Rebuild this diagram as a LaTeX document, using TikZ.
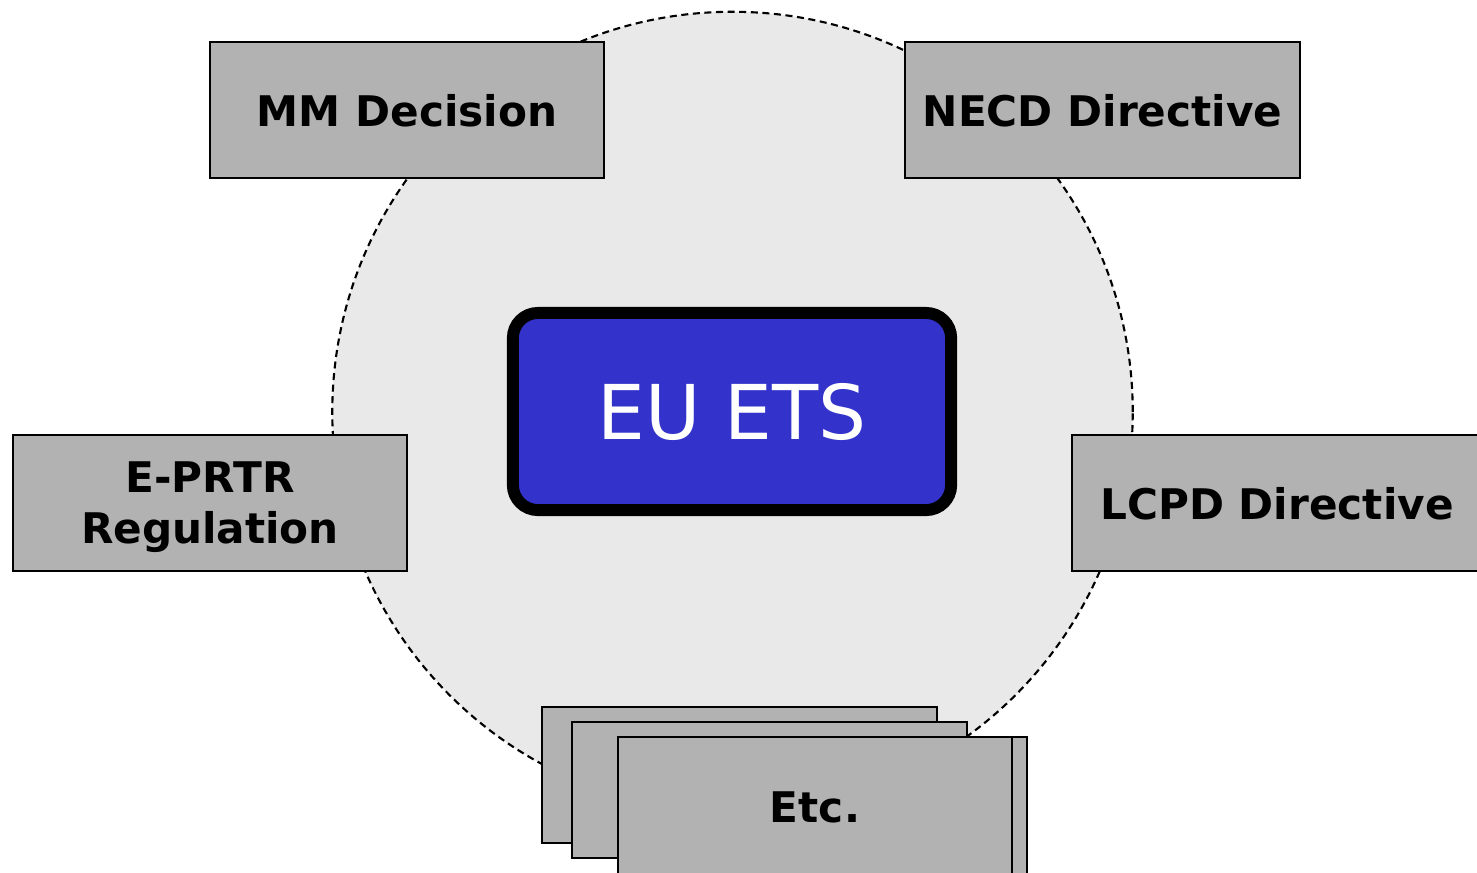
\documentclass[tikz,border=0pt]{standalone}
\usepackage{fontspec}
\setmainfont{DejaVu Sans}
\usepackage{xcolor}
\usetikzlibrary{positioning,calc}
\definecolor{docgray}{HTML}{B2B2B2}
\definecolor{ringgray}{HTML}{E9E9E9}
\definecolor{etsblue}{HTML}{3333CC}

\begin{document}
\begin{tikzpicture}[x=0.01cm, y=-0.01cm,
    docbox/.style={rectangle, draw, line width=0.6pt, fill=docgray, minimum width=3.94cm, minimum height=1.36cm, inner sep=0pt, text depth=0pt, align=center, font=\fontsize{12}{14.5}\selectfont\bfseries},
    etsbox/.style={rectangle, draw, line width=3.4pt, rounded corners=0.25cm, fill=etsblue, text=white, minimum width=4.38cm, minimum height=1.97cm, font=\fontsize{21.5}{25}\selectfont}]
    \useasboundingbox (0,0) rectangle (1477,872);
    \node[circle, draw, dash pattern=on 2pt off 1.3pt, line width=0.6pt, fill=ringgray, minimum size=8cm, inner sep=0pt] (ring) at (732.5,412) {};

    \node[docbox] (MM) at (407,110) {MM Decision};
    \node[docbox] (NECD) at (1102.5,110) {NECD Directive};
    \node[docbox] (EPRTR) at (210,503) {E-PRTR\\Regulation};
    \node[docbox, minimum width=4.1cm] (LCPD) at (1277,503) {LCPD Directive};

    \node[docbox] (etc1) at (739.5,775) {};
    \node[docbox] (etc2) at (769.5,790) {};
    \node[docbox, minimum height=1.4cm] (etc4) at (830,807) {};
    \node[docbox, minimum height=1.4cm] (etc3) at (815,807) {Etc.};

    \node[etsbox, text depth=0pt] (ETS) at (732,411.5) {EU ETS};
\end{tikzpicture}
\end{document}
